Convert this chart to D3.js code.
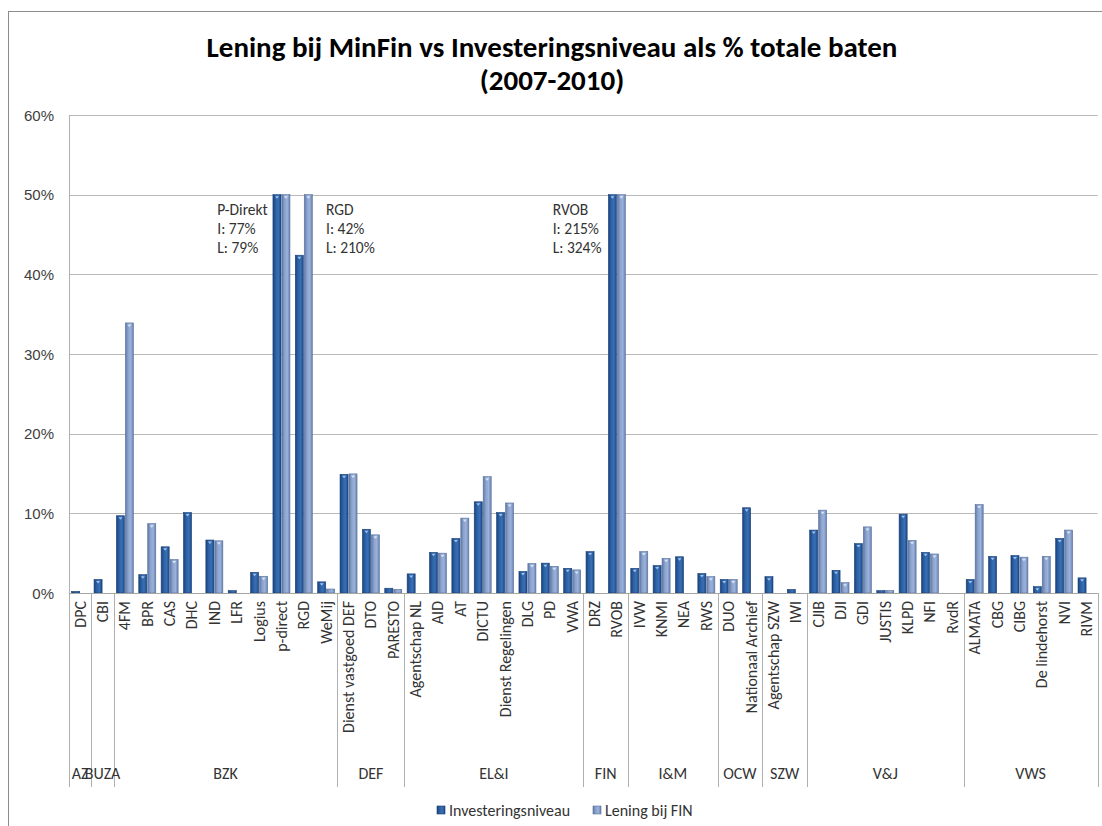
<!DOCTYPE html>
<html>
<head>
<meta charset="utf-8">
<script src="https://cdn.jsdelivr.net/npm/d3@7"></script>
<style>
    html, body { margin: 0; padding: 0; background: #fff; }
    svg { display: block; font-family: Carlito, Calibri, Lato, "Open Sans", sans-serif; }
</style>
</head>
<body>
<svg id="chart" width="1102" height="826"></svg>
<script>
// agencies, grouped per ministry
var categories = ["DPC", "CBI", "4FM", "BPR", "CAS", "DHC", "IND", "LFR", "Logius", "p-direct", "RGD", "WeMij",
    "Dienst vastgoed DEF", "DTO", "PARESTO",
    "Agentschap NL", "AID", "AT", "DICTU", "Dienst Regelingen", "DLG", "PD", "VWA",
    "DRZ", "RVOB",
    "IVW", "KNMI", "NEA", "RWS",
    "DUO", "Nationaal Archief",
    "Agentschap SZW", "IWI",
    "CJIB", "DJI", "GDI", "JUSTIS", "KLPD", "NFI", "RvdR",
    "ALMATA", "CBG", "CIBG", "De lindehorst", "NVI", "RIVM"];

var ministries = ["AZ", "BUZA", "BZK", "BZK", "BZK", "BZK", "BZK", "BZK", "BZK", "BZK", "BZK", "BZK",
    "DEF", "DEF", "DEF",
    "EL&I", "EL&I", "EL&I", "EL&I", "EL&I", "EL&I", "EL&I", "EL&I",
    "FIN", "FIN",
    "I&M", "I&M", "I&M", "I&M",
    "OCW", "OCW",
    "SZW", "SZW",
    "V&J", "V&J", "V&J", "V&J", "V&J", "V&J", "V&J",
    "VWS", "VWS", "VWS", "VWS", "VWS", "VWS"];

// % of total income, bars above 50% are cut off at 50%
var investering = [0.2, 1.7, 9.7, 2.3, 5.8, 10.1, 6.65, 0.3, 2.6, 50, 42.4, 1.4,
    14.9, 8.0, 0.6,
    2.4, 5.1, 6.85, 11.45, 10.1, 2.7, 3.75, 3.1,
    5.2, 50,
    3.1, 3.45, 4.55, 2.45,
    1.7, 10.7,
    2.05, 0.45,
    7.9, 2.85, 6.2, 0.3, 9.9, 5.1, 0,
    1.7, 4.6, 4.7, 0.8, 6.85, 1.9];

var lening = [0, 0, 33.9, 8.7, 4.2, 0, 6.55, 0, 2.1, 50, 50, 0.5,
    14.95, 7.3, 0.45,
    0, 5.0, 9.4, 14.6, 11.3, 3.7, 3.35, 2.9,
    0, 50,
    5.2, 4.35, 0, 2.05,
    1.7, 0,
    0, 0,
    10.4, 1.3, 8.3, 0.3, 6.6, 4.9, 0,
    11.1, 0, 4.5, 4.6, 7.9, 0];

var series = ["Investeringsniveau", "Lening bij FIN"];
var yTicks = [0, 10, 20, 30, 40, 50, 60];

// real values of the cut off bars
var notes = [
    {cat: "p-direct", lines: ["P-Direkt", "I: 77%", "L: 79%"], side: "left"},
    {cat: "RGD", lines: ["RGD", "I: 42%", "L: 210%"], side: "right"},
    {cat: "RVOB", lines: ["RVOB", "I: 215%", "L: 324%"], side: "left"}
];

var svg = d3.select("#chart"),
    margins = {"left": 69, "right": 4.3, "top": 115, "bottom": 233},
    width = 1102, height = 826,
    labelBottom = 787;

var defs = svg.append("defs");
function gradient(id, stops) {
    var g = defs.append("linearGradient").attr("id", id)
        .attr("x1", "0%").attr("x2", "100%").attr("y1", "0%").attr("y2", "0%");
    stops.forEach((c, i) => g.append("stop").attr("offset", (i / (stops.length - 1) * 100) + "%").attr("stop-color", c));
}
gradient("g0", ["#1a437c", "#2c60a4", "#3870b6", "#1c4886"]);
gradient("g1", ["#5d77a6", "#8aa3cd", "#9bb2da", "#6680b0"]);
var fills = ["url(#g0)", "url(#g1)"],
    strokes = ["#1a3f74", "#5a719c"];

// chart frame
svg.append("rect").attr("x", 8.5).attr("y", 11.5).attr("width", 1200).attr("height", 1000)
    .attr("fill", "none").attr("stroke", "#8c8c8c").attr("stroke-width", 1);

svg.append("text").attr("x", 552).attr("y", 57).attr("text-anchor", "middle")
    .style("font-size", "29px").style("font-weight", "bold").attr("fill", "#000")
    .text("Lening bij MinFin vs Investeringsniveau als % totale baten");
svg.append("text").attr("x", 552).attr("y", 90).attr("text-anchor", "middle")
    .style("font-size", "29px").style("font-weight", "bold").attr("fill", "#000")
    .text("(2007-2010)");

var x = d3.scaleBand().domain(categories).range([margins.left, width - margins.right]).padding(0),
    x1 = d3.scaleBand().domain(series).range([0, x.bandwidth()]).paddingInner(0.1).paddingOuter(0.3),
    y = d3.scaleLinear().domain([0, 60]).range([height - margins.bottom, margins.top]);

// gridlines
svg.append("g").selectAll("line").data(yTicks).enter().append("line")
    .attr("x1", margins.left).attr("x2", width - margins.right)
    .attr("y1", d => Math.round(y(d)) + 0.5).attr("y2", d => Math.round(y(d)) + 0.5)
    .attr("stroke", "#b9b9b9").attr("stroke-width", 1);

var yAxis = svg.append("g").attr("transform", "translate(" + [margins.left - 15, 0] + ")")
    .call(d3.axisLeft(y).tickValues(yTicks).tickFormat(d => d + "%").tickSize(0).tickPadding(0));
yAxis.select(".domain").remove();
yAxis.selectAll("text").style("font-size", "15px").attr("fill", "#404040").attr("dy", "0.35em");

// separators between the ministries + left axis line
var bounds = [0];
ministries.forEach((m, i) => { if(i > 0 && m !== ministries[i - 1]) bounds.push(i); });
bounds.push(categories.length);

var groups = bounds.slice(0, -1).map((b, i) => ({name: ministries[b], start: b, end: bounds[i + 1]}));

function edge(i) { return i < categories.length ? x(categories[i]) : x.range()[1]; }

svg.append("g").selectAll("line").data(bounds).enter().append("line")
    .attr("x1", d => Math.round(edge(d)) + 0.5).attr("x2", d => Math.round(edge(d)) + 0.5)
    .attr("y1", d => d === 0 ? margins.top : y(0)).attr("y2", labelBottom)
    .attr("stroke", "#b0b0b0").attr("stroke-width", 1);

// bars
var rows = categories.map((c, i) => ({cat: c, values: [investering[i], lening[i]]}));

var cat = svg.append("g").selectAll("g").data(rows).enter().append("g")
    .attr("transform", d => "translate(" + [x(d.cat), 0] + ")");

cat.selectAll("rect").data(d => d.values.map((v, k) => ({s: series[k], k: k, v: v})).filter(d => d.v > 0))
    .enter().append("rect")
    .attr("x", d => x1(d.s)).attr("width", x1.bandwidth())
    .attr("y", d => y(d.v)).attr("height", d => y(0) - y(d.v))
    .attr("fill", d => fills[d.k]).attr("stroke", d => strokes[d.k]).attr("stroke-width", 0.6);

// small highlight on top of each bar
cat.selectAll("path").data(d => d.values.map((v, k) => ({s: series[k], k: k, v: v})).filter(d => d.v > 0.6))
    .enter().append("path")
    .attr("d", d => {
        var cx = x1(d.s) + x1.bandwidth() / 2, ty = y(d.v) + 1.5;
        return "M" + (cx - 2) + "," + ty + "L" + (cx + 2) + "," + ty + "L" + cx + "," + (ty + 2.5) + "Z";
    })
    .attr("fill", d => d.k ? "#d8e4f4" : "#9fc0ea");

// bottom axis line
svg.append("line").attr("x1", margins.left).attr("x2", width - margins.right)
    .attr("y1", Math.round(y(0)) + 0.5).attr("y2", Math.round(y(0)) + 0.5)
    .attr("stroke", "#a6a6a6");

// category labels
svg.append("g").selectAll("text").data(categories).enter().append("text")
    .attr("transform", d => "translate(" + [x(d) + x.bandwidth() / 2 + 5.5, y(0) + 8] + ") rotate(-90)")
    .attr("text-anchor", "end")
    .style("font-size", "16px").attr("fill", "#333")
    .text(d => d);

// ministry labels
svg.append("g").selectAll("text").data(groups).enter().append("text")
    .attr("x", d => (edge(d.start) + edge(d.end)) / 2).attr("y", 779)
    .attr("text-anchor", "middle").style("font-size", "16px").attr("fill", "#333")
    .text(d => d.name);

// notes for the cut off bars
var note = svg.append("g").selectAll("text").data(notes).enter().append("text")
    .style("font-size", "15.5px").attr("fill", "#333")
    .attr("transform", d => d.side === "left"
        ? "translate(" + [x(d.cat) - 53, 215] + ")"
        : "translate(" + [x(d.cat) + x.bandwidth() + 11, 215] + ")");
note.selectAll("tspan").data(d => d.lines).enter().append("tspan")
    .attr("x", 0).attr("dy", (d, i) => i ? 19 : 0).text(d => d);

// legend
var legend = svg.append("g").selectAll("g").data(series).enter().append("g")
    .attr("transform", (d, i) => "translate(" + [437 + i * 156, 806] + ")");
legend.append("rect").attr("width", 8).attr("height", 8)
    .attr("fill", (d, i) => fills[i]).attr("stroke", (d, i) => strokes[i]).attr("stroke-width", 0.6);
legend.append("text").attr("x", 12).attr("y", 4).attr("dy", "0.35em")
    .style("font-size", "16px").attr("fill", "#333").text(d => d);
</script>
</body>
</html>
